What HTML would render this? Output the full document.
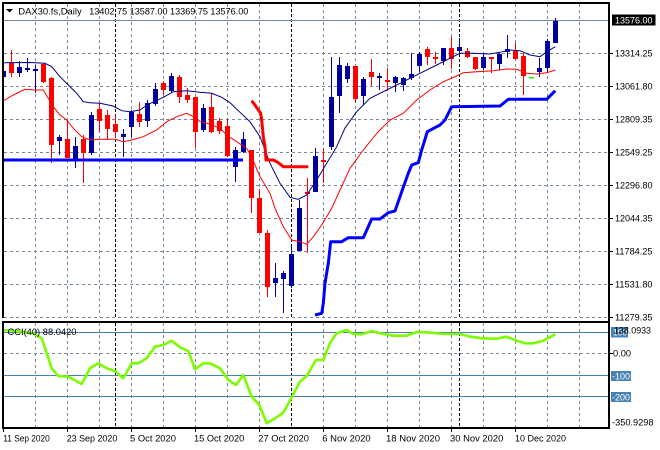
<!DOCTYPE html>
<html><head><meta charset="utf-8"><style>
html,body{margin:0;padding:0;background:#fff;}
svg{display:block;}
text{font-family:"Liberation Sans",Arial,sans-serif;font-size:9px;fill:#000;}
</style></head><body>
<svg width="660" height="450" viewBox="0 0 660 450" xmlns="http://www.w3.org/2000/svg">
<rect x="0" y="0" width="660" height="450" fill="#fff"/>
<defs>
<clipPath id="cm"><rect x="4" y="4" width="604" height="314"/></clipPath>
<clipPath id="cc"><rect x="4" y="323" width="604" height="104"/></clipPath>
</defs>
<!-- grid main -->
<g stroke="#778899" stroke-width="1" stroke-dasharray="3,3" fill="none">
<path d="M4 53.5H608M4 86.5H608M4 119.5H608M4 152.5H608M4 185.5H608M4 218.5H608M4 251.5H608M4 284.5H608M4 317.5H608"/>
<path d="M35.5 4V317M67.5 4V317M99.5 4V317M131.5 4V317M163.5 4V317M195.5 4V317M227.5 4V317M259.5 4V317M323.5 4V317M355.5 4V317M387.5 4V317M419.5 4V317M451.5 4V317M483.5 4V317M515.5 4V317M547.5 4V317M579.5 4V317"/>
<path d="M35.5 323V427M67.5 323V427M99.5 323V427M131.5 323V427M163.5 323V427M195.5 323V427M227.5 323V427M259.5 323V427M323.5 323V427M355.5 323V427M387.5 323V427M419.5 323V427M451.5 323V427M483.5 323V427M515.5 323V427M547.5 323V427M579.5 323V427"/>
<path d="M4 353.5H608"/>
</g>
<g stroke="#000" stroke-width="1" stroke-dasharray="3,2" fill="none">
<path d="M115.5 4V317M291.5 4V317M459.5 4V317M115.5 323V427M291.5 323V427M459.5 323V427"/>
</g>
<!-- current price line -->
<path d="M4 20.5H608" stroke="#778899" stroke-width="1"/>
<!-- CCI levels -->
<path d="M4 332.5H608M4 375.5H608M4 396.5H608" stroke="#4682B4" stroke-width="1"/>

<g clip-path="url(#cm)">
<!-- candles -->
<g fill="#0000A0">
<rect x="3" y="62" width="1" height="18"/><rect x="1" y="71" width="5" height="6"/>
<rect x="19" y="61" width="1" height="16"/><rect x="17" y="67" width="5" height="6"/>
<rect x="27" y="58" width="1" height="14"/><rect x="25" y="68" width="5" height="2"/>
<rect x="35" y="65" width="1" height="28"/><rect x="33" y="69" width="5" height="2"/>
<rect x="59" y="135" width="1" height="20"/><rect x="57" y="137" width="5" height="4"/>
<rect x="75" y="137" width="1" height="31"/><rect x="73" y="146" width="5" height="13"/>
<rect x="91" y="112" width="1" height="43"/><rect x="89" y="115" width="5" height="38"/>
<rect x="123" y="129" width="1" height="28"/><rect x="121" y="134" width="5" height="3"/>
<rect x="131" y="110" width="1" height="27"/><rect x="129" y="112" width="5" height="15"/>
<rect x="147" y="100" width="1" height="27"/><rect x="145" y="103" width="5" height="18"/>
<rect x="155" y="83" width="1" height="23"/><rect x="153" y="89" width="5" height="15"/>
<rect x="171" y="73" width="1" height="20"/><rect x="169" y="76" width="5" height="15"/>
<rect x="203" y="104" width="1" height="28"/><rect x="201" y="108" width="5" height="22"/>
<rect x="235" y="147" width="1" height="35"/><rect x="233" y="150" width="5" height="17"/>
<rect x="243" y="132" width="1" height="21"/><rect x="241" y="139" width="5" height="13"/>
<rect x="275" y="263" width="1" height="34"/><rect x="273" y="278" width="5" height="5"/>
<rect x="283" y="271" width="1" height="42"/><rect x="281" y="273" width="5" height="6"/>
<rect x="291" y="247" width="1" height="41"/><rect x="289" y="254" width="5" height="32"/>
<rect x="299" y="200" width="1" height="51"/><rect x="297" y="208" width="5" height="43"/>
<rect x="315" y="148" width="1" height="44"/><rect x="313" y="156" width="5" height="36"/>
<rect x="331" y="57" width="1" height="93"/><rect x="329" y="97" width="5" height="50"/>
<rect x="339" y="57" width="1" height="56"/><rect x="337" y="65" width="5" height="31"/>
<rect x="347" y="63" width="1" height="20"/><rect x="345" y="66" width="5" height="13"/>
<rect x="363" y="77" width="1" height="28"/><rect x="361" y="79" width="5" height="17"/>
<rect x="379" y="73" width="1" height="17"/><rect x="377" y="76" width="5" height="2"/>
<rect x="395" y="76" width="1" height="16"/><rect x="393" y="77" width="5" height="6"/>
<rect x="403" y="77" width="1" height="14"/><rect x="401" y="78" width="5" height="7"/>
<rect x="411" y="53" width="1" height="27"/><rect x="409" y="74" width="5" height="4"/>
<rect x="419" y="52" width="1" height="20"/><rect x="417" y="54" width="5" height="12"/>
<rect x="443" y="48" width="1" height="17"/><rect x="441" y="48" width="5" height="13"/>
<rect x="459" y="38" width="1" height="18"/><rect x="457" y="47" width="5" height="4"/>
<rect x="483" y="53" width="1" height="17"/><rect x="481" y="57" width="5" height="11"/>
<rect x="499" y="53" width="1" height="17"/><rect x="497" y="54" width="5" height="10"/>
<rect x="507" y="35" width="1" height="23"/><rect x="505" y="49" width="5" height="3"/>
<rect x="539" y="58" width="1" height="19"/><rect x="537" y="68" width="5" height="4"/>
<rect x="547" y="39" width="1" height="34"/><rect x="545" y="41" width="5" height="27"/>
<rect x="555" y="18" width="1" height="25"/><rect x="553" y="21" width="5" height="22"/>
</g>
<g fill="#FF0000">
<rect x="11" y="50" width="1" height="27"/><rect x="9" y="63" width="5" height="10"/>
<rect x="43" y="63" width="1" height="20"/><rect x="41" y="64" width="5" height="18"/>
<rect x="51" y="77" width="1" height="86"/><rect x="49" y="78" width="5" height="67"/>
<rect x="67" y="120" width="1" height="38"/><rect x="65" y="139" width="5" height="19"/>
<rect x="83" y="135" width="1" height="48"/><rect x="81" y="139" width="5" height="14"/>
<rect x="99" y="103" width="1" height="29"/><rect x="97" y="109" width="5" height="12"/>
<rect x="107" y="110" width="1" height="30"/><rect x="105" y="115" width="5" height="14"/>
<rect x="115" y="115" width="1" height="23"/><rect x="113" y="124" width="5" height="8"/>
<rect x="139" y="102" width="1" height="25"/><rect x="137" y="114" width="5" height="8"/>
<rect x="163" y="81" width="1" height="14"/><rect x="161" y="83" width="5" height="7"/>
<rect x="179" y="75" width="1" height="28"/><rect x="177" y="77" width="5" height="20"/>
<rect x="187" y="88" width="1" height="15"/><rect x="185" y="95" width="5" height="5"/>
<rect x="195" y="97" width="1" height="51"/><rect x="193" y="97" width="5" height="35"/>
<rect x="211" y="93" width="1" height="40"/><rect x="209" y="107" width="5" height="25"/>
<rect x="219" y="118" width="1" height="16"/><rect x="217" y="121" width="5" height="10"/>
<rect x="227" y="119" width="1" height="38"/><rect x="225" y="126" width="5" height="30"/>
<rect x="251" y="150" width="1" height="63"/><rect x="249" y="150" width="5" height="48"/>
<rect x="259" y="189" width="1" height="44"/><rect x="257" y="198" width="5" height="35"/>
<rect x="267" y="230" width="1" height="67"/><rect x="265" y="233" width="5" height="54"/>
<rect x="307" y="178" width="1" height="75"/><rect x="305" y="192" width="5" height="2"/>
<rect x="323" y="148" width="1" height="35"/><rect x="321" y="160" width="5" height="2"/>
<rect x="355" y="66" width="1" height="37"/><rect x="353" y="66" width="5" height="33"/>
<rect x="371" y="59" width="1" height="27"/><rect x="369" y="72" width="5" height="5"/>
<rect x="387" y="68" width="1" height="23"/><rect x="385" y="80" width="5" height="2"/>
<rect x="427" y="47" width="1" height="18"/><rect x="425" y="49" width="5" height="8"/>
<rect x="435" y="52" width="1" height="12"/><rect x="433" y="57" width="5" height="2"/>
<rect x="451" y="37" width="1" height="32"/><rect x="449" y="48" width="5" height="11"/>
<rect x="467" y="48" width="1" height="10"/><rect x="465" y="51" width="5" height="6"/>
<rect x="475" y="57" width="1" height="13"/><rect x="473" y="57" width="5" height="12"/>
<rect x="491" y="57" width="1" height="16"/><rect x="489" y="57" width="5" height="2"/>
<rect x="515" y="43" width="1" height="16"/><rect x="513" y="51" width="5" height="8"/>
<rect x="523" y="53" width="1" height="42"/><rect x="521" y="56" width="5" height="20"/>
</g>
<rect x="529" y="77" width="5" height="1.5" fill="#00FF00"/>
<!-- indicators -->
<polyline fill="none" stroke="#000080" stroke-width="1" points="3,62.7 30,62.5 45,63.3 51.7,66.7 60,76.7 68.3,85 76.7,93.3 83.3,101.7 90,102.7 100,103.3 113,106 121.7,110.7 130,111.7 140,110 146.7,105 163.3,97.3 173.3,91.7 186.7,90.7 200,92.3 211.7,93.3 221.7,97.3 230,102.7 240,112.3 250,121.7 260,136.7 270,163.3 280,183.3 290,197.3 298.3,199.3 306.7,195 316.7,180 326.7,163.3 336.7,146.7 345,128 356.7,111.7 370,98.3 386.7,90 403.3,81.7 420,73.3 436.7,65 450,58.3 460,53.3 473.3,53.3 490,54 500,52.3 510,50 520,50.7 530,55 540,56.7 546.7,51.7 555.3,46.7"/>
<polyline fill="none" stroke="#FF0000" stroke-width="1" points="3,101 13.3,95 25,89.3 35,90 43.3,90 53.3,106.7 60,115 66.7,120 73.3,128.3 81.7,136.7 90,140 100,139.3 115,139.3 123.3,141.7 131.7,140 143.3,136.7 156.7,130 166.7,121.7 176.7,116.7 186.7,113.3 193.3,116.7 200,121.7 210,124 220,128.3 226.7,135 236.7,141.7 246.7,148.3 252,158 260,176.5 270,193.3 275,208.3 283.3,226.7 291.7,240 300,241.7 306.7,244.3 313.3,236.7 321.7,225 331.7,208.3 340,190 350,168.3 363.3,150 376.7,133.3 390,120 403.3,113.3 416.7,100 430,90 443.3,81.7 456.7,76 463.3,72.7 476.7,71.7 493.3,70.7 506.7,69 516.7,69.3 526.7,73.3 536.7,74 546.7,72.7 555.3,70"/>
<path d="M3 160H243" stroke="#0000FF" stroke-width="3" fill="none"/>
<polyline fill="none" stroke="#0000FF" stroke-width="3" stroke-linejoin="round" points="315,315 321.7,313.3 323.3,303.3 325,283.3 328.3,263.3 330.7,241.7 341.7,241.7 348.3,237.7 363.3,237.7 371.7,219 380,219 388.3,212.7 395,211 401.7,191.7 408.3,173.3 411.7,165 418.3,162.7 421.7,150 427.3,131.7 440,125 445,120 451.7,106.7 500,106 508.3,99.3 546.7,99.3 555.3,90.7"/>
<polyline fill="none" stroke="#FF0000" stroke-width="3" stroke-linejoin="round" points="251.7,100.7 255,105 258.3,110 260.7,113.3 261.7,120 263.3,136.7 265,146.7 266,160 273.3,160 278.3,162.7 283.3,166.7 308.3,166.7"/>
</g>

<!-- CCI -->
<g clip-path="url(#cc)">
<polyline fill="none" stroke="#7CFC00" stroke-width="2.6" stroke-linejoin="round" points="3,330 13.3,330.7 33.3,333.3 41.7,338.3 51.7,368.3 58.3,376 68.3,376.7 81.7,384 90,368.3 98.3,363.3 106.7,368.3 115,371 123.3,378.3 131.7,363.3 138.3,363.3 146.7,358.3 155,346.7 163.3,345 171.7,340.7 180,347.3 188.3,351 195,369.3 203.3,363.3 210,363.3 220,368.3 228.3,380 236,385 243.3,375 251.7,396.7 259.3,405 266.7,423.3 275,418.3 283.3,412.7 291.7,397.3 300,381.7 306.7,376 316,360 323.3,360 330,343 336.7,333.3 346.7,330 353.3,334 361.7,334.3 371.7,331 380,333.3 393.3,335.7 406.7,335.7 416.7,332 426.7,332.3 443.3,334 460,334 470,336.7 483.3,338.3 496.7,338.7 506.7,336.7 516.7,340.7 525,343.3 533.3,343.3 543.3,340.7 555.3,334.3"/>
</g>
<text x="7.5" y="335" textLength="69" lengthAdjust="spacingAndGlyphs">CCI(40) 88.0420</text>

<!-- frames -->
<g stroke="#000" stroke-width="2" fill="none">
<path d="M3 2V318M2 3H610M609 2V429"/>
<path d="M3 321V429M2 322H610M2 428H610"/>
</g>

<!-- header -->
<polygon points="6,9 13,9 9.5,12.5" fill="#000"/>
<text x="18.3" y="14.5" textLength="63.4" lengthAdjust="spacingAndGlyphs">DAX30.fs,Daily</text>
<text x="89.3" y="14.5" textLength="159" lengthAdjust="spacingAndGlyphs">13402.75 13587.00 13369.75 13576.00</text>

<!-- price axis -->
<g stroke="#000" stroke-width="1">
<path d="M610 53.5H613M610 86.5H613M610 119.5H613M610 152.5H613M610 185.5H613M610 218.5H613M610 251.5H613M610 284.5H613M610 317.5H613M610 353.5H613"/>
<path d="M3.5 429V432M67.5 429V432M131.5 429V432M195.5 429V432M259.5 429V432M323.5 429V432M387.5 429V432M451.5 429V432M515.5 429V432"/>
</g>
<rect x="612" y="14.5" width="43.5" height="11" fill="#000"/>
<text x="615" y="23.5" textLength="37.5" lengthAdjust="spacingAndGlyphs" style="fill:#fff">13576.00</text>
<text x="615" y="56.5" textLength="37.5" lengthAdjust="spacingAndGlyphs">13314.25</text>
<text x="615" y="89.5" textLength="37.5" lengthAdjust="spacingAndGlyphs">13061.80</text>
<text x="615" y="122.5" textLength="37.5" lengthAdjust="spacingAndGlyphs">12809.35</text>
<text x="615" y="155.5" textLength="37.5" lengthAdjust="spacingAndGlyphs">12549.25</text>
<text x="615" y="188.5" textLength="37.5" lengthAdjust="spacingAndGlyphs">12296.80</text>
<text x="615" y="221.5" textLength="37.5" lengthAdjust="spacingAndGlyphs">12044.35</text>
<text x="615" y="254.5" textLength="37.5" lengthAdjust="spacingAndGlyphs">11784.25</text>
<text x="615" y="287.5" textLength="37.5" lengthAdjust="spacingAndGlyphs">11531.80</text>
<text x="615" y="320.5" textLength="37.5" lengthAdjust="spacingAndGlyphs">11279.35</text>

<!-- CCI axis -->
<rect x="611" y="327" width="17" height="10.5" fill="#4682B4"/>
<text x="613" y="335.5" textLength="14" lengthAdjust="spacingAndGlyphs" style="fill:#fff">100</text>
<text x="614" y="333.3" textLength="37" lengthAdjust="spacingAndGlyphs">138.0933</text>
<text x="613" y="356.6" textLength="18" lengthAdjust="spacingAndGlyphs">0.00</text>
<rect x="611" y="371" width="20" height="10" fill="#4682B4"/>
<text x="612" y="379.3" textLength="18" lengthAdjust="spacingAndGlyphs" style="fill:#fff">-100</text>
<rect x="611" y="392" width="20" height="10" fill="#4682B4"/>
<text x="612" y="400.3" textLength="18" lengthAdjust="spacingAndGlyphs" style="fill:#fff">-200</text>
<text x="612" y="425.6" textLength="41.5" lengthAdjust="spacingAndGlyphs">-350.9298</text>

<!-- date axis -->
<text x="3.3" y="441.5" textLength="46.5" lengthAdjust="spacingAndGlyphs">11 Sep 2020</text>
<text x="66.7" y="441.5" textLength="50.6" lengthAdjust="spacingAndGlyphs">23 Sep 2020</text>
<text x="130" y="441.5" textLength="46" lengthAdjust="spacingAndGlyphs">5 Oct 2020</text>
<text x="194" y="441.5" textLength="50.3" lengthAdjust="spacingAndGlyphs">15 Oct 2020</text>
<text x="258.3" y="441.5" textLength="50.7" lengthAdjust="spacingAndGlyphs">27 Oct 2020</text>
<text x="322.3" y="441.5" textLength="48.4" lengthAdjust="spacingAndGlyphs">6 Nov 2020</text>
<text x="386" y="441.5" textLength="54" lengthAdjust="spacingAndGlyphs">18 Nov 2020</text>
<text x="450" y="441.5" textLength="53.3" lengthAdjust="spacingAndGlyphs">30 Nov 2020</text>
<text x="515" y="441.5" textLength="51" lengthAdjust="spacingAndGlyphs">10 Dec 2020</text>
</svg>
</body></html>
